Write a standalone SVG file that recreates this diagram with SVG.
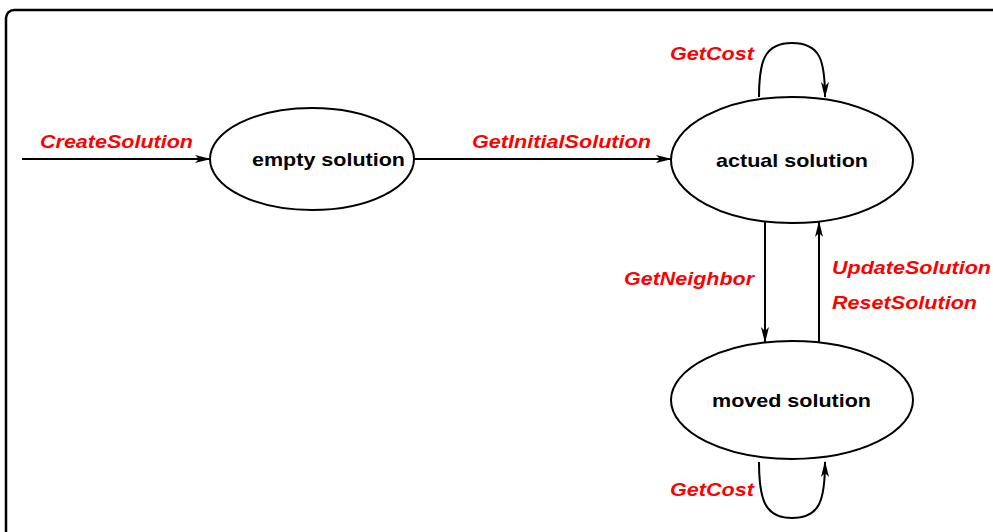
<svg xmlns="http://www.w3.org/2000/svg" width="993" height="532" viewBox="0 0 993 532">
<style>
.node ellipse{fill:#fff;stroke:#000;stroke-width:2}
.node text{font-family:"Liberation Sans",Arial,sans-serif;font-weight:bold;font-size:19px;fill:#000;text-anchor:middle}
.lbl{font-family:"Liberation Sans",Arial,sans-serif;font-weight:bold;font-style:italic;font-size:19px;fill:#ff0000}
.edge{fill:none;stroke:#000;stroke-width:2;marker-end:url(#ah)}
</style>
<defs>
<marker id="ah" markerWidth="16" markerHeight="8" refX="15" refY="4" orient="auto" markerUnits="userSpaceOnUse">
<path d="M0,0 L16,4 L0,8 L4,4 Z" fill="#000"/>
</marker>
</defs>
<rect width="993" height="532" fill="#fff"/>
<rect x="6" y="10" width="1020" height="560" rx="8" fill="none" stroke="#000" stroke-width="2.5"/>
<g id="connectors">
<path class="edge" d="M22,159 L210,159"/>
<path class="edge" d="M414,159 L671,159"/>
<path class="edge" d="M759,97 C759,60 765,43 792,43 C820,43 825,60 825,97"/>
<path class="edge" d="M765,222 L765,342"/>
<path class="edge" d="M819,342 L819,222"/>
<path class="edge" d="M759,462 C759,500 765,518 792,518 C820,518 825,500 825,462"/>
<text class="lbl" x="40" y="148" textLength="153" lengthAdjust="spacingAndGlyphs">CreateSolution</text>
<text class="lbl" x="472" y="148" textLength="179" lengthAdjust="spacingAndGlyphs">GetInitialSolution</text>
<text class="lbl" x="670" y="60" textLength="84" lengthAdjust="spacingAndGlyphs">GetCost</text>
<text class="lbl" x="624" y="285" textLength="130" lengthAdjust="spacingAndGlyphs">GetNeighbor</text>
<text class="lbl" x="832" y="274" textLength="159" lengthAdjust="spacingAndGlyphs">UpdateSolution</text>
<text class="lbl" x="832" y="309" textLength="145" lengthAdjust="spacingAndGlyphs">ResetSolution</text>
<text class="lbl" x="670" y="496" textLength="84" lengthAdjust="spacingAndGlyphs">GetCost</text>
</g>
<g id="empty" class="node"><ellipse cx="312" cy="159" rx="102" ry="51"/><text x="328.5" y="166" textLength="153" lengthAdjust="spacingAndGlyphs">empty solution</text></g>
<g id="actual" class="node"><ellipse cx="792" cy="160" rx="121" ry="63"/><text x="792" y="167" textLength="152" lengthAdjust="spacingAndGlyphs">actual solution</text></g>
<g id="moved" class="node"><ellipse cx="792" cy="400" rx="121" ry="59"/><text x="791.5" y="407" textLength="159" lengthAdjust="spacingAndGlyphs">moved solution</text></g>
</svg>
